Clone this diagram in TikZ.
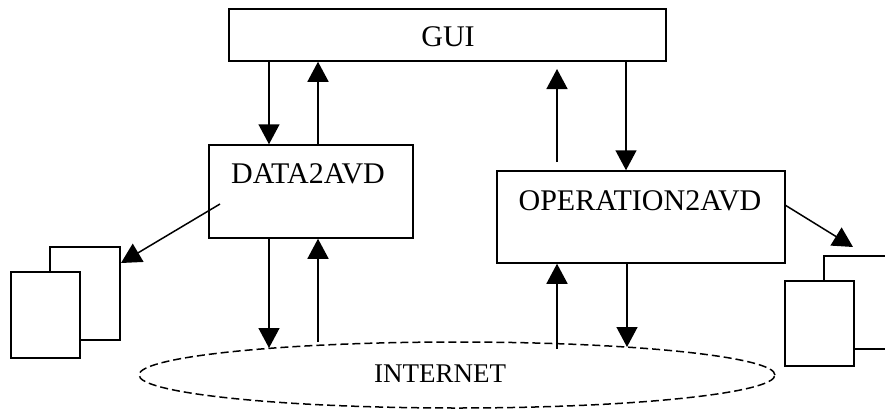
\documentclass[tikz,border=0pt]{standalone}
\usepackage{fontspec}
\setmainfont{Liberation Serif}
\usetikzlibrary{arrows.meta,shapes.geometric}
\begin{document}
\begin{tikzpicture}[x=1pt,y=-1pt,
  box/.style={draw,line width=1.5pt,rectangle,inner sep=0pt,fill=white},
  lbl/.style={inner sep=0pt,font=\fontsize{30}{30}\selectfont},
  arr/.style={line width=1.5pt,-{Triangle[length=20pt,width=21pt]}},
  doc/.style={draw,line width=1.5pt,fill=white}]
\clip (0,0) rectangle (885,412);
\fill[white] (0,0) rectangle (885,412);
% boxes
\node[box,minimum width=437pt,minimum height=52pt] (gui) at (447.5,35) {};
\node[lbl] (guit) at (448,37) {GUI};
\node[box,minimum width=204pt,minimum height=93pt] (data) at (311,191.5) {};
\node[lbl] (datat) at (308,174) {DATA2AVD};
\node[box,minimum width=288pt,minimum height=92pt] (op) at (641,217) {};
\node[lbl] (opt) at (640,201) {OPERATION2AVD};
% internet
\node[draw,ellipse,line width=1.5pt,dash pattern=on 8pt off 4pt,minimum width=636pt,minimum height=66pt,inner sep=0pt] (net) at (457,375) {};
\node[inner sep=0pt,font=\fontsize{27}{27}\selectfont] (nett) at (440,374) {INTERNET};
% documents left
\draw[doc] (50,247) rectangle (120,340);
\draw[doc] (11,272) rectangle (80,358);
\coordinate (docL) at (121,263);
% documents right
\draw[doc] (824,256) rectangle (900,349);
\draw[doc] (785,281) rectangle (854,366);
\coordinate (docR) at (853,247);
% arrows GUI <-> DATA
\draw[arr] (gui.south -| 269,0) -- (data.north -| 269,0);
\draw[arr] (data.north -| 318,0) -- (gui.south -| 318,0);
% arrows GUI <-> OP
\coordinate (opup1) at (557,162);
\coordinate (opup2) at (557,69);
\draw[arr] (opup1) -- (opup2);
\draw[arr] (gui.south -| 626,0) -- (op.north -| 626,0);
% DATA <-> internet
\coordinate (n1) at (269,348);
\coordinate (n2) at (318,342);
\coordinate (n3) at (557,349);
\coordinate (n4) at (627,347);
\draw[arr] (data.south -| 269,0) -- (n1);
\draw[arr] (n2) -- (data.south -| 318,0);
\draw[arr] (n3) -- (op.south -| 557,0);
\draw[arr] (op.south -| 627,0) -- (n4);
% to documents
\coordinate (ds) at (220,204);
\coordinate (os) at (785,205);
\draw[arr] (ds) -- (docL);
\draw[arr] (os) -- (docR);
\end{tikzpicture}
\end{document}
